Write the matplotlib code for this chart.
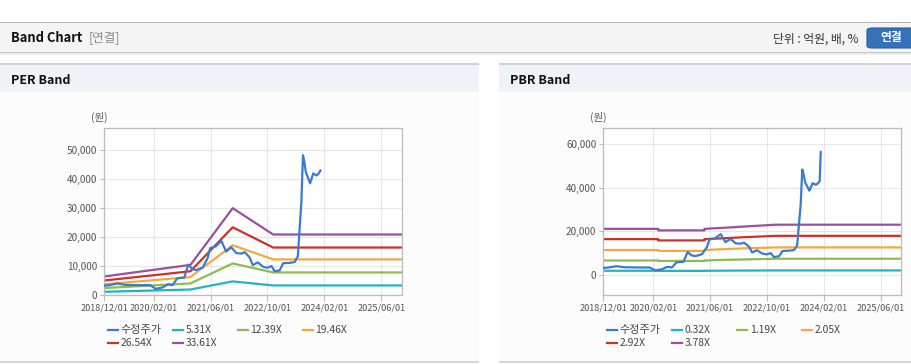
import matplotlib
matplotlib.use("Agg")
import matplotlib.pyplot as plt
from matplotlib.patches import Rectangle, FancyBboxPatch
from matplotlib.lines import Line2D
import pandas as pd

# ---- data ----
price_dates = ["2018-12-01", "2019-01-15", "2019-03-25", "2019-06-01", "2019-10-01",
               "2020-01-01", "2020-02-18", "2020-04-15", "2020-06-01", "2020-07-10",
               "2020-08-20", "2020-10-18", "2020-11-22", "2020-12-25", "2021-01-28",
               "2021-03-25", "2021-05-06", "2021-05-28", "2021-07-15", "2021-09-01",
               "2021-10-12", "2021-11-25", "2022-01-06", "2022-02-18", "2022-03-20",
               "2022-05-01", "2022-05-28", "2022-07-10", "2022-08-22", "2022-10-01",
               "2022-11-04", "2022-12-01", "2023-01-13", "2023-02-13", "2023-04-10",
               "2023-05-22", "2023-06-18", "2023-07-04", "2023-07-18", "2023-08-01",
               "2023-08-13", "2023-08-25", "2023-10-01", "2023-10-28", "2023-11-25",
               "2023-12-10", "2023-12-28", "2024-01-06"]
price = [3200, 3400, 4000, 3500, 3400,
         3400, 2100, 2600, 3700, 3400,
         5800, 6000, 10500, 9000, 8600,
         9500, 12700, 16200, 16800, 18700,
         15000, 16500, 14500, 14300, 14800,
         13000, 10300, 11300, 9800, 9400,
         10000, 8200, 8500, 11000, 11100,
         11400, 13400, 23500, 32000, 48300,
         46000, 42500, 38600, 42000, 41300,
         41800, 43000, 56300]

per_dates = ["2018-12-01", "2020-12-10", "2021-12-07", "2022-11-19", "2025-12-31"]
per_labels = ["5.31X", "12.39X", "19.46X", "26.54X", "33.61X"]
per_5_31 = [1100, 1900, 4700, 3300, 3300]
per_12_39 = [2400, 4000, 10900, 7800, 7800]
per_19_46 = [3700, 6200, 17200, 12300, 12300]
per_26_54 = [5000, 8200, 23400, 16400, 16400]
per_33_61 = [6400, 10400, 30000, 20900, 20900]

pbr_dates = ["2018-12-01", "2020-03-15", "2020-03-15", "2021-04-15", "2021-04-15",
             "2021-10-01", "2022-04-01", "2022-12-15", "2025-12-31"]
pbr_labels = ["0.32X", "1.19X", "2.05X", "2.92X", "3.78X"]
pbr_0_32 = [1900, 1900, 1850, 1850, 1900, 1950, 2000, 2050, 2050]
pbr_1_19 = [6600, 6600, 6400, 6400, 6600, 6900, 7100, 7400, 7400]
pbr_2_05 = [11400, 11400, 11000, 11000, 11400, 11800, 12200, 12600, 12600]
pbr_2_92 = [16400, 16400, 15800, 15800, 16400, 16800, 17300, 17900, 17900]
pbr_3_78 = [21100, 21100, 20400, 20400, 21100, 21600, 22200, 23000, 23000]

xtick_dates = ["2018-12-01", "2020-02-01", "2021-06-01", "2022-10-01", "2024-02-01", "2025-06-01"]

price_color = "#3a7bd0"
band_colors = ["#20b3c6", "#8fbb4e", "#f2a93f", "#cc3129", "#9b4f9f"]

plt.rcParams["font.family"] = ["Noto Sans CJK KR", "DejaVu Sans"]

W, H = 912, 364
fig = plt.figure(figsize=(W / 100, H / 100), dpi=100)
fig.patch.set_facecolor("white")


def fx(x):
    return x / W


def fy(y):
    return 1 - y / H


def rect(x0, y0, x1, y1, color):
    fig.add_artist(Rectangle((fx(x0), fy(y1)), (x1 - x0) / W, (y1 - y0) / H,
                             transform=fig.transFigure, facecolor=color,
                             edgecolor="none", zorder=0))


def text(x, y, s, **kw):
    kw.setdefault("va", "center")
    fig.text(fx(x), fy(y), s, **kw)


# page header bar
rect(0, 22, W, 23, "#b4b4b4")
rect(0, 23, W, 52, "#f4f4f4")
rect(0, 52, W, 53, "#c4c4c4")
rect(0, 53, W, 55, "#ececec")
text(11, 38, "Band Chart", fontsize=9.3, fontweight="bold", color="#111111")
text(89, 38, "[연결]", fontsize=9, color="#8a8a8a")
text(859, 39, "단위 : 억원, 배, %", fontsize=8.5, color="#333333", ha="right")
fig.add_artist(FancyBboxPatch((fx(867), fy(48)), (930 - 867) / W, 20 / H,
                              boxstyle="round,pad=0,rounding_size=0.006",
                              transform=fig.transFigure, facecolor="#3572ba",
                              edgecolor="#2a5e9e", lw=0.8, zorder=1))
text(891.5, 38, "연결", fontsize=8.5, fontweight="bold", color="white", ha="center")

# panels
for x0, x1, title in [(0, 479, "PER Band"), (499, W, "PBR Band")]:
    rect(x0, 63, x1, 64.5, "#d2d2d2")
    rect(x0, 64.5, x1, 92, "#eff2f7")
    rect(x0, 92, x1, 361, "#fcfcfc")
    rect(x0, 361, x1, 362.5, "#d6d6d6")
    text(x0 + 11.5, 80.5, title, fontsize=9, fontweight="bold", color="#111111")


def draw_chart(left, band_dates, bands, labels, p_dates, p_vals, ylim, yticks):
    ax = fig.add_axes([fx(left), fy(295), (left_w) / W, (295 - 128) / H])
    ax.set_facecolor("white")
    bd = pd.to_datetime(band_dates)
    for vals, c in zip(bands, band_colors):
        ax.plot(bd, vals, color=c, lw=1.6, zorder=2)
    ax.plot(pd.to_datetime(p_dates), p_vals, color=price_color, lw=1.6, zorder=3)
    ax.set_xlim(pd.Timestamp("2018-12-01"), pd.Timestamp("2025-11-26"))
    ax.set_ylim(*ylim)
    ax.set_xticks(pd.to_datetime(xtick_dates))
    ax.set_xticklabels([d.replace("-", "/") for d in xtick_dates])
    ax.set_yticks(yticks)
    ax.set_yticklabels([f"{v:,}" for v in yticks])
    ax.grid(True, color="#e6e6e6", lw=0.8, zorder=0)
    ax.set_axisbelow(True)
    for s in ax.spines.values():
        s.set_color("#bcbcbc")
        s.set_linewidth(0.9)
    ax.tick_params(axis="x", length=4, width=0.8, color="#bcbcbc",
                   labelsize=6.6, labelcolor="#555555", pad=2)
    ax.tick_params(axis="y", length=3, width=0.8, color="#bcbcbc",
                   labelsize=7.2, labelcolor="#555555", pad=2)
    text(left - 5, 117, "(원)", fontsize=7.5, color="#555555", ha="center")

    # legend laid out as a grid like the reference
    items = [("수정주가", price_color)] + list(zip(labels, band_colors))
    for i, (lab, c) in enumerate(items):
        col, row = i % 4, i // 4
        x = left + 4 + col * 65
        y = 330 + row * 13.3
        fig.add_artist(Line2D([fx(x), fx(x + 10)], [fy(y), fy(y)],
                              transform=fig.transFigure, color=c, lw=1.6))
        text(x + 12.5, y, lab, fontsize=7.4 if i else 8, color="#444444")
    return ax


left_w = 298
draw_chart(104, per_dates, [per_5_31, per_12_39, per_19_46, per_26_54, per_33_61],
           per_labels, price_dates[:-1], price[:-1], (0, 57700),
           [0, 10000, 20000, 30000, 40000, 50000])
draw_chart(603.3, pbr_dates, [pbr_0_32, pbr_1_19, pbr_2_05, pbr_2_92, pbr_3_78],
           pbr_labels, price_dates, price, (-9200, 67300),
           [0, 20000, 40000, 60000])

fig.savefig("out.png", dpi=100)
